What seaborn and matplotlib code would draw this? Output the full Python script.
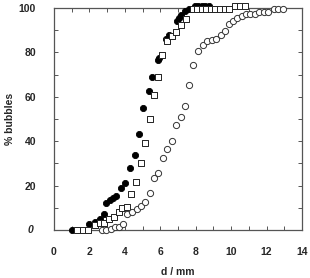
import numpy as np
import pandas as pd
import matplotlib
matplotlib.use("Agg")
import matplotlib.pyplot as plt
import seaborn as sns
from matplotlib.ticker import MultipleLocator

# Series A: filled circles
d_filled = [1.0, 2.0, 2.3, 2.6, 2.8, 2.95, 3.15, 3.35, 3.5, 3.8, 4.0, 4.3, 4.6, 4.8,
            5.05, 5.35, 5.55, 5.85, 5.95, 6.35, 6.5, 6.95, 7.05, 7.2, 7.4, 7.6,
            7.95, 8.15, 8.35, 8.55, 8.75]
p_filled = [0, 2.5, 3.5, 5, 7, 12.2, 13.5, 14.5, 15.5, 19, 21.2, 28, 33.6, 43.4,
            54.8, 62.8, 69, 76.7, 77.5, 86, 88, 94, 95.5, 97, 98.6, 99.6,
            101, 101, 101, 101, 101]

# Series B: open squares
d_square = [1.3, 1.65, 1.95, 2.3, 2.6, 2.85, 3.1, 3.4, 3.65, 3.85, 4.1, 4.35, 4.65,
            4.9, 5.15, 5.4, 5.65, 5.9, 6.1, 6.4, 6.65, 6.9, 7.2, 7.45,
            7.85, 8.1, 8.35, 8.6, 8.85, 9.1, 9.4, 9.65, 9.9, 10.2, 10.5, 10.8]
p_square = [0, 0, 0, 2.2, 3, 3, 4.8, 6, 8, 10, 10.5, 16, 21.4,
            30.3, 39, 50, 61, 69, 79, 85, 87.5, 89, 92.5, 95,
            99.8, 99.8, 99.8, 99.8, 99.8, 99.8, 99.8, 99.8, 99.8, 100.8, 100.8, 100.8]

# Series C: open circles
d_open = [2.7, 2.95, 3.2, 3.45, 3.7, 3.9, 4.15, 4.4, 4.67, 4.92, 5.15, 5.4, 5.65,
          5.9, 6.14, 6.4, 6.65, 6.9, 7.16, 7.4, 7.65, 7.87, 8.15, 8.4, 8.63, 8.9,
          9.15, 9.42, 9.66, 9.89, 10.13, 10.36, 10.6, 10.85, 11.07, 11.36, 11.6,
          11.86, 12.1, 12.4, 12.67, 12.92]
p_open = [0, 0, 0.5, 1.2, 1.5, 2.5, 7.0, 8.0, 9.2, 10.7, 12.6, 16.8, 23.5,
          25.7, 32.3, 36.5, 40, 47.2, 51, 56, 65.3, 74.2, 80.5, 83.2, 85.1, 85.4,
          86.1, 88, 89.8, 92.8, 94.3, 95.3, 96.5, 97.2, 97.2, 97.5, 98.3,
          98.3, 98.3, 99.5, 99.5, 99.5]

x_ticks = [0, 2, 4, 6, 8, 10, 12, 14]
y_ticks = [0, 20, 40, 60, 80, 100]

sns.set_style("ticks")
plt.rcParams['font.family'] = ['Liberation Sans', 'DejaVu Sans']

fig = plt.figure(figsize=(3.10, 2.78), dpi=100)
ax = fig.add_axes([0.174, 0.173, 0.800, 0.798])

df_f = pd.DataFrame({"d": d_filled, "p": p_filled})
df_s = pd.DataFrame({"d": d_square, "p": p_square})
df_o = pd.DataFrame({"d": d_open, "p": p_open})

sns.scatterplot(data=df_f, x="d", y="p", ax=ax, marker="o", s=20,
                color="black", edgecolor="black", linewidth=0.6, clip_on=False, zorder=3)
sns.scatterplot(data=df_s, x="d", y="p", ax=ax, marker="s", s=20,
                color="white", edgecolor="#222222", linewidth=0.7, clip_on=False, zorder=4)
sns.scatterplot(data=df_o, x="d", y="p", ax=ax, marker="o", s=20,
                color="white", edgecolor="#333333", linewidth=0.7, clip_on=False, zorder=5)

ax.set_xlim(0, 14)
ax.set_ylim(0, 100)
ax.set_xticks(x_ticks)
ax.set_yticks(y_ticks)
ax.xaxis.set_minor_locator(MultipleLocator(1))
ax.yaxis.set_minor_locator(MultipleLocator(10))
ax.set_xticklabels([str(t) for t in x_ticks], fontsize=7.5, fontweight="bold")
ax.set_yticklabels([""] + [str(t) for t in y_ticks[1:]], fontsize=7.5, fontweight="bold")
ax.text(-0.085, 0.0, "0", transform=ax.transAxes, ha="right", va="center",
        fontsize=7.5, fontweight="bold", fontstyle="italic")

ax.tick_params(which="both", direction="in", top=True, right=True,
               length=3, width=0.7, color="#555555")
ax.tick_params(axis="x", which="major", pad=12)
ax.tick_params(axis="y", which="major", pad=13)

for sp in ax.spines.values():
    sp.set_color("#555555")
    sp.set_linewidth(0.9)

ax.set_xlabel("d / mm", fontsize=7.5, fontweight="bold")
ax.set_ylabel("% bubbles", fontsize=7.5, fontweight="bold")
ax.xaxis.set_label_coords(0.5, -0.165)
ax.yaxis.set_label_coords(-0.158, 0.5)

fig.savefig("out.png", dpi=100)
